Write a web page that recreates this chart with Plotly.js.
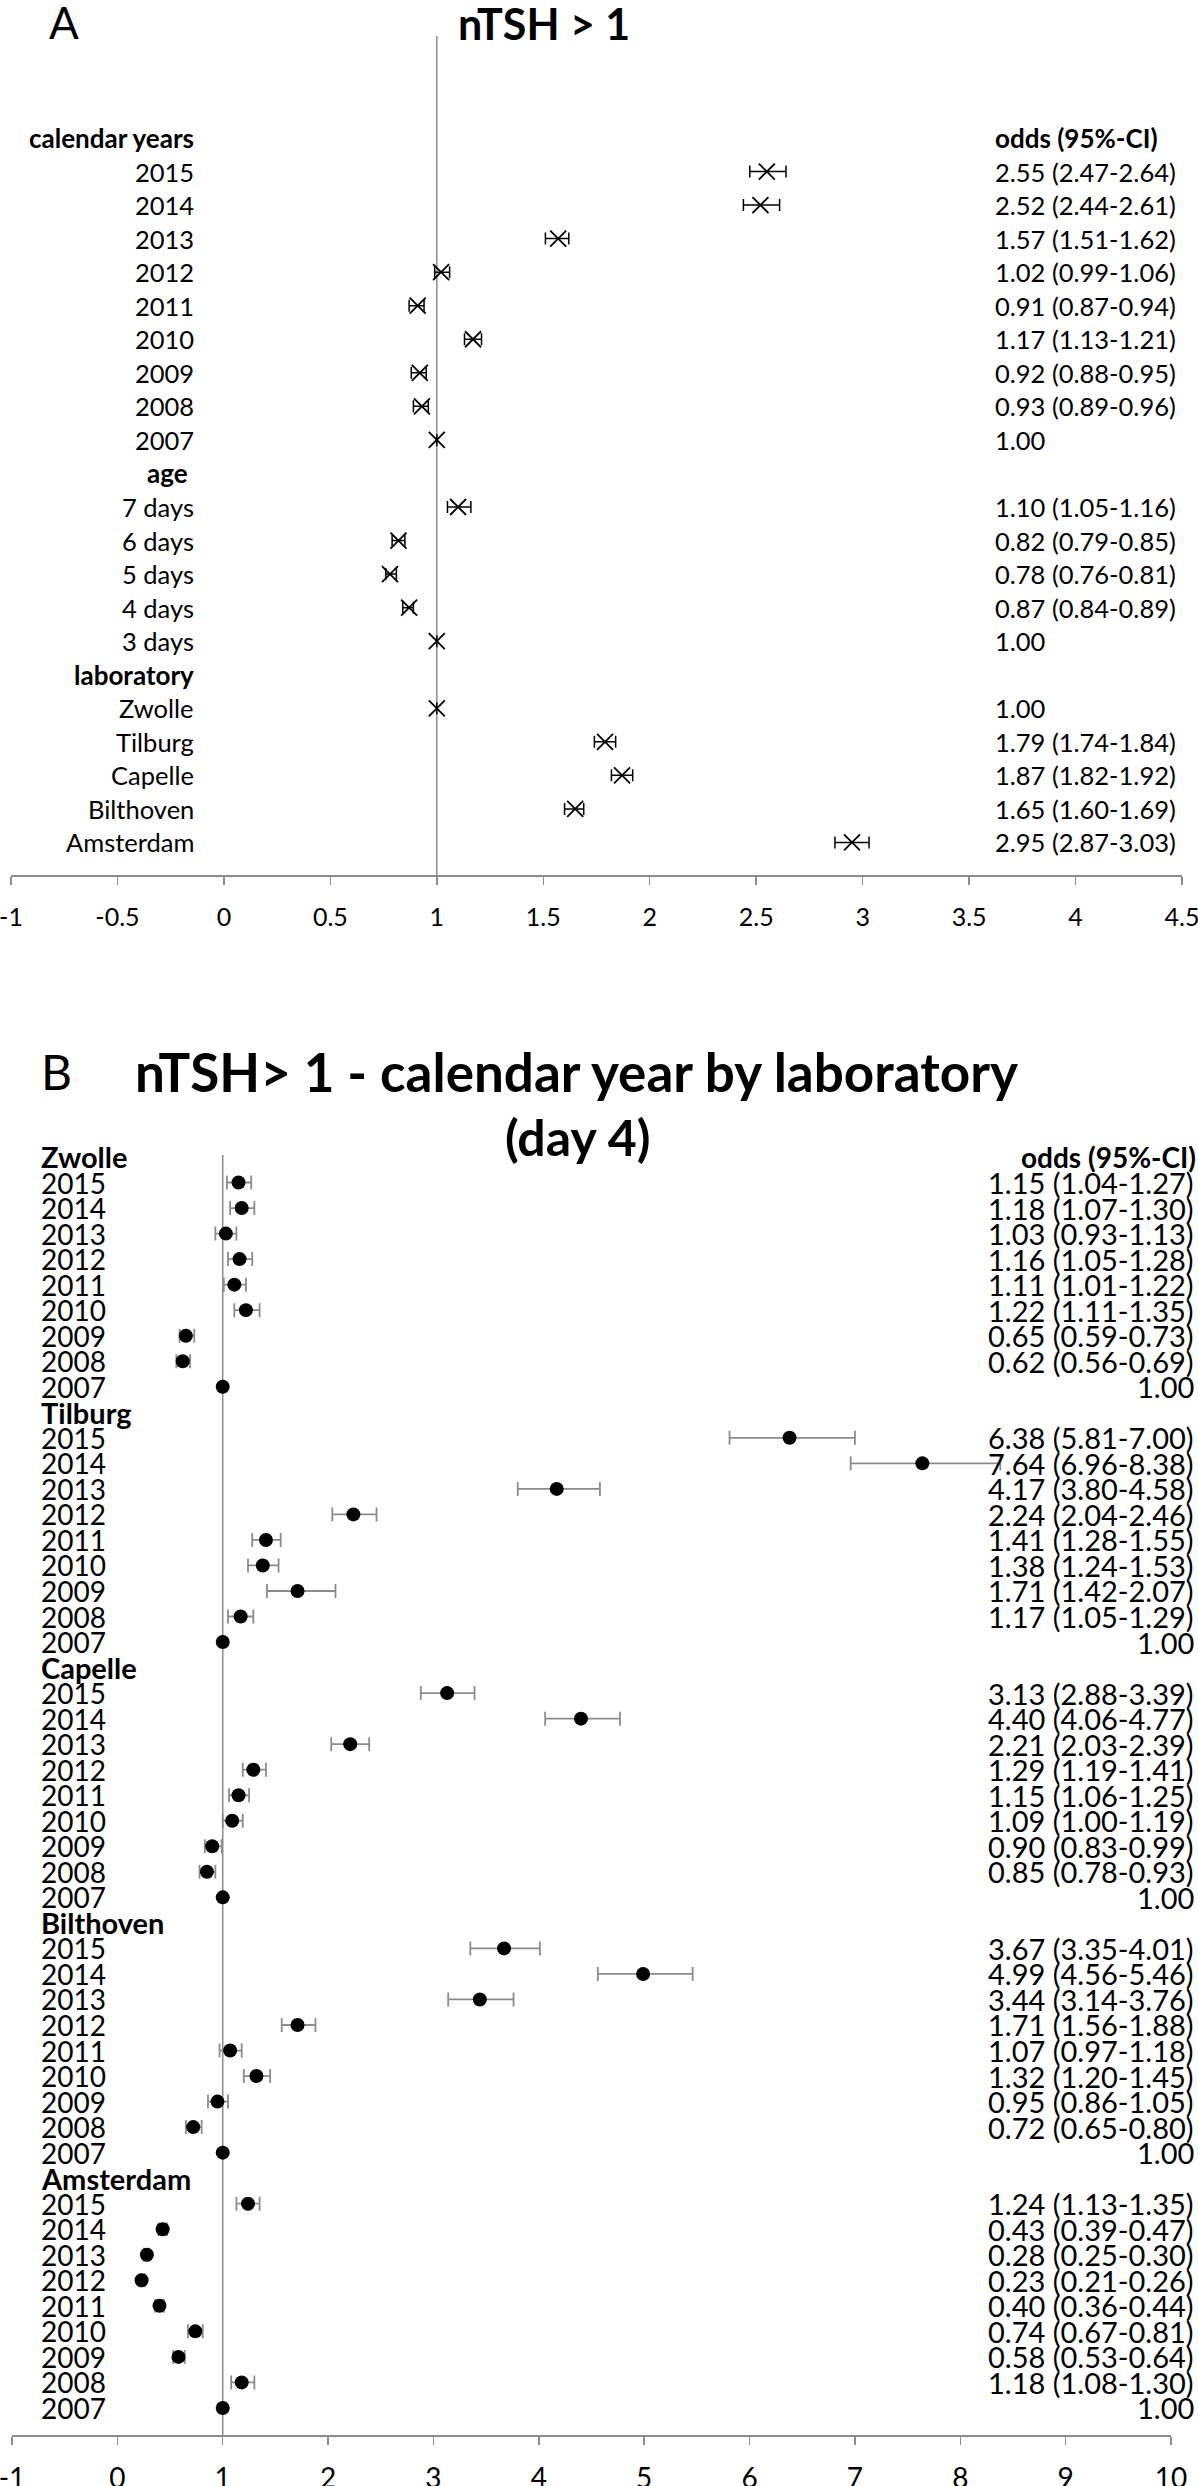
<!DOCTYPE html>
<html>
<head>
<meta charset="utf-8">
<script src="https://cdn.plot.ly/plotly-3.0.1.min.js"></script>
<style>
  body { margin: 0; background: #fff; }
  #myDiv { width: 1198px; height: 2486px; }
</style>
</head>
<body>
<div id="myDiv"></div>
<script>
// ---- panel A: nTSH > 1, overall model ----
var rowsA = ['calendar years', '2015', '2014', '2013', '2012', '2011', '2010', '2009', '2008', '2007',
             'age', '7 days', '6 days', '5 days', '4 days', '3 days',
             'laboratory', 'Zwolle', 'Tilburg', 'Capelle', 'Bilthoven', 'Amsterdam'];
// null = group header row
var oddsA = [null, 2.55, 2.52, 1.57, 1.02, 0.91, 1.17, 0.92, 0.93, 1.00,
             null, 1.10, 0.82, 0.78, 0.87, 1.00,
             null, 1.00, 1.79, 1.87, 1.65, 2.95];
var lowA  = [null, 2.47, 2.44, 1.51, 0.99, 0.87, 1.13, 0.88, 0.89, null,
             null, 1.05, 0.79, 0.76, 0.84, null,
             null, null, 1.74, 1.82, 1.60, 2.87];
var highA = [null, 2.64, 2.61, 1.62, 1.06, 0.94, 1.21, 0.95, 0.96, null,
             null, 1.16, 0.85, 0.81, 0.89, null,
             null, null, 1.84, 1.92, 1.69, 3.03];
var ticksA = [-1, -0.5, 0, 0.5, 1, 1.5, 2, 2.5, 3, 3.5, 4, 4.5];

// ---- panel B: calendar year by laboratory (day 4) ----
var labsB = ['Zwolle', 'Tilburg', 'Capelle', 'Bilthoven', 'Amsterdam'];
var yearsB = ['2015', '2014', '2013', '2012', '2011', '2010', '2009', '2008', '2007'];
var oddsB = [
  [1.15, 1.18, 1.03, 1.16, 1.11, 1.22, 0.65, 0.62, 1.00],
  [6.38, 7.64, 4.17, 2.24, 1.41, 1.38, 1.71, 1.17, 1.00],
  [3.13, 4.40, 2.21, 1.29, 1.15, 1.09, 0.90, 0.85, 1.00],
  [3.67, 4.99, 3.44, 1.71, 1.07, 1.32, 0.95, 0.72, 1.00],
  [1.24, 0.43, 0.28, 0.23, 0.40, 0.74, 0.58, 1.18, 1.00]
];
var lowB = [
  [1.04, 1.07, 0.93, 1.05, 1.01, 1.11, 0.59, 0.56, null],
  [5.81, 6.96, 3.80, 2.04, 1.28, 1.24, 1.42, 1.05, null],
  [2.88, 4.06, 2.03, 1.19, 1.06, 1.00, 0.83, 0.78, null],
  [3.35, 4.56, 3.14, 1.56, 0.97, 1.20, 0.86, 0.65, null],
  [1.13, 0.39, 0.25, 0.21, 0.36, 0.67, 0.53, 1.08, null]
];
var highB = [
  [1.27, 1.30, 1.13, 1.28, 1.22, 1.35, 0.73, 0.69, null],
  [7.00, 8.38, 4.58, 2.46, 1.55, 1.53, 2.07, 1.29, null],
  [3.39, 4.77, 2.39, 1.41, 1.25, 1.19, 0.99, 0.93, null],
  [4.01, 5.46, 3.76, 1.88, 1.18, 1.45, 1.05, 0.80, null],
  [1.35, 0.47, 0.30, 0.26, 0.44, 0.81, 0.64, 1.30, null]
];
var ticksB = [-1, 0, 1, 2, 3, 4, 5, 6, 7, 8, 9, 10];

var W = 1198, H = 2486;
function px(x) { return x / W; }
function py(y) { return 1 - y / H; }
function oddsText(o, lo, hi) {
  return o.toFixed(2) + (lo == null ? '' : ' (' + lo.toFixed(2) + '-' + hi.toFixed(2) + ')');
}

var FONT = 'Lato, "Open Sans", sans-serif';
var annotations = [];
function note(text, x, xanchor, yref, y, size) {
  annotations.push({text: text, showarrow: false, xref: 'paper', x: x, xanchor: xanchor,
                    yref: yref, y: y, yanchor: 'middle', borderpad: 0,
                    font: {family: FONT, size: size, color: '#000'}});
}

// panel A rows
var yA = [], errPlusA = [], errMinusA = [];
rowsA.forEach(function(r, i) {
  yA.push(i);
  var o = oddsA[i];
  errPlusA.push(highA[i] == null ? null : highA[i] - o);
  errMinusA.push(lowA[i] == null ? null : o - lowA[i]);
  if (o == null) {
    note('<b>' + r + '</b>', px(r == 'age' ? 189 : 195), 'right', 'y', i, 26);
  } else {
    note(r, px(195), 'right', 'y', i, 25.5);
    note(oddsText(o, lowA[i], highA[i]), px(994), 'left', 'y', i, 25.5);
  }
});
note('<b>odds (95%-CI)</b>', px(994), 'left', 'y', 0, 26);

// panel B rows
var xB = [], yB = [], errPlusB = [], errMinusB = [];
labsB.forEach(function(lab, g) {
  var base = g * 10;
  note('<b>' + lab + '</b>', px(40), 'left', 'y2', base, 29);
  yearsB.forEach(function(yr, j) {
    var o = oddsB[g][j], lo = lowB[g][j], hi = highB[g][j];
    var row = base + 1 + j;
    xB.push(o);
    yB.push(row);
    errPlusB.push(hi == null ? null : hi - o);
    errMinusB.push(lo == null ? null : o - lo);
    note(yr, px(40), 'left', 'y2', row, 28);
    note(oddsText(o, lo, hi), px(1195), 'right', 'y2', row, 29);
  });
});
note('<b>odds (95%-CI)</b>', px(1197), 'right', 'y2', 0, 28);

// titles
note('A', px(64), 'center', 'paper', py(22), 44);
note('<b>nTSH &gt; 1</b>', px(544), 'center', 'paper', py(23), 43);
note('B', px(56), 'center', 'paper', py(1071), 48);
note('<b>nTSH&gt; 1 - calendar year by laboratory</b>', px(576), 'center', 'paper', py(1071), 53);
note('<b>(day 4)</b>', px(577), 'center', 'paper', py(1137), 50);

var traceA = {
  x: oddsA, y: yA, xaxis: 'x', yaxis: 'y',
  type: 'scatter', mode: 'markers',
  marker: {symbol: 'x-thin', size: 16, color: '#000', line: {color: '#000', width: 1.8}},
  error_x: {type: 'data', symmetric: false, array: errPlusA, arrayminus: errMinusA,
            color: '#000', thickness: 1.5, width: 6},
  hoverinfo: 'skip'
};

var traceB = {
  x: xB, y: yB, xaxis: 'x2', yaxis: 'y2',
  type: 'scatter', mode: 'markers',
  marker: {symbol: 'circle', size: 14, color: '#000'},
  error_x: {type: 'data', symmetric: false, array: errPlusB, arrayminus: errMinusB,
            color: '#8c8c8c', thickness: 1.8, width: 7},
  hoverinfo: 'skip'
};

var axisStyle = {
  showline: true, linecolor: '#8c8c8c', linewidth: 1.5,
  ticks: 'outside', ticklen: 8, tickwidth: 1.5, tickcolor: '#8c8c8c',
  showgrid: false, zeroline: false, fixedrange: true,
  ticklabeloverflow: 'allow'
};

var layout = {
  width: W, height: H,
  margin: {l: 0, r: 0, t: 0, b: 0},
  showlegend: false,
  paper_bgcolor: '#fff', plot_bgcolor: 'rgba(0,0,0,0)',
  font: {family: FONT, color: '#000'},
  xaxis: Object.assign({}, axisStyle, {
    domain: [px(11), px(1182)], range: [-1, 4.5], anchor: 'y',
    tickmode: 'array', tickvals: ticksA, ticktext: ticksA.map(String),
    tickfont: {family: FONT, size: 25, color: '#000'}, ticklabelstandoff: 11
  }),
  yaxis: {domain: [py(875), py(36)], range: [21.97, -3.04], visible: false, anchor: 'x', fixedrange: true},
  xaxis2: Object.assign({}, axisStyle, {
    domain: [px(12), px(1171)], range: [-1, 10], anchor: 'y2',
    tickmode: 'array', tickvals: ticksB, ticktext: ticksB.map(String),
    tickfont: {family: FONT, size: 28, color: '#000'}, ticklabelstandoff: 10
  }),
  yaxis2: {domain: [py(2435), py(1155)], range: [50.06, -0.078], visible: false, anchor: 'x2', fixedrange: true},
  shapes: [
    {type: 'line', xref: 'x', x0: 1, x1: 1, yref: 'y domain', y0: 0, y1: 1, layer: 'below',
     line: {color: '#8c8c8c', width: 1.5}},
    {type: 'line', xref: 'x2', x0: 1, x1: 1, yref: 'y2 domain', y0: 0, y1: 1, layer: 'below',
     line: {color: '#8c8c8c', width: 1.5}}
  ],
  annotations: annotations
};

Plotly.newPlot('myDiv', [traceA, traceB], layout, {staticPlot: true, displayModeBar: false});
</script>
</body>
</html>
